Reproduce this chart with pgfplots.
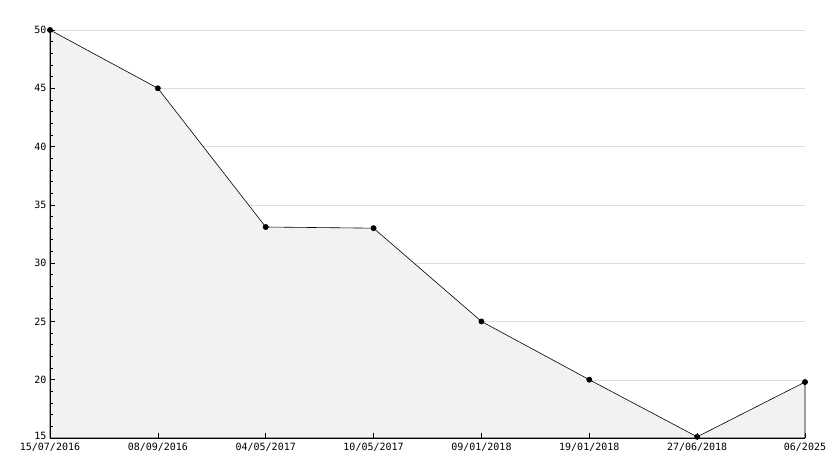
\documentclass[border=0pt]{standalone}
\usepackage{fontspec}
\setmainfont{DejaVu Sans Mono}
\usepackage{pgfplots}
\pgfplotsset{compat=1.18}
\pgfplotsset{common/.style={
  scale only axis,
  width=755pt, height=408pt,
  xmin=0, xmax=7, ymin=15, ymax=50,
  axis x line=bottom, axis y line=left,
  axis line style={-, black, line width=0.7pt},
  xtick={0,1,2,3,4,5,6,7},
  ytick={15,20,25,30,35,40,45,50},
  clip=false,
}}
\begin{document}
\begin{tikzpicture}
\begin{axis}[common,
  xticklabels={}, yticklabels={},
  major tick length=0pt,
  ymajorgrids,
  major grid style={draw=black!13},
]
\addplot[draw=black, line width=0.6pt, fill=black!5, mark=*, mark size=2.6pt, mark options={fill=black}]
  coordinates {(0,50) (1,45) (2,33.1) (3,33.0) (4,25.0) (5,20.0) (6,15.1) (7,19.8)} \closedcycle;
\end{axis}
\begin{axis}[common,
  axis on top,
  xticklabels={15/07/2016,08/09/2016,04/05/2017,10/05/2017,09/01/2018,19/01/2018,27/06/2018,06/2025},
  yticklabels={\raisebox{4pt}{15},20,25,30,35,40,45,50},
  minor y tick num=4,
  tick align=inside,
  major tick length=5pt,
  minor tick length=3pt,
  tick style={black, line width=0.7pt},
  ticklabel style={font=\fontsize{10}{11}\selectfont},
  xticklabel style={yshift=-2pt},
  /pgf/number format/assume math mode=true,
]
\end{axis}
\pgfresetboundingbox
\path[use as bounding box] (-50pt,-30pt) rectangle (784pt,438pt);
\end{tikzpicture}
\end{document}
